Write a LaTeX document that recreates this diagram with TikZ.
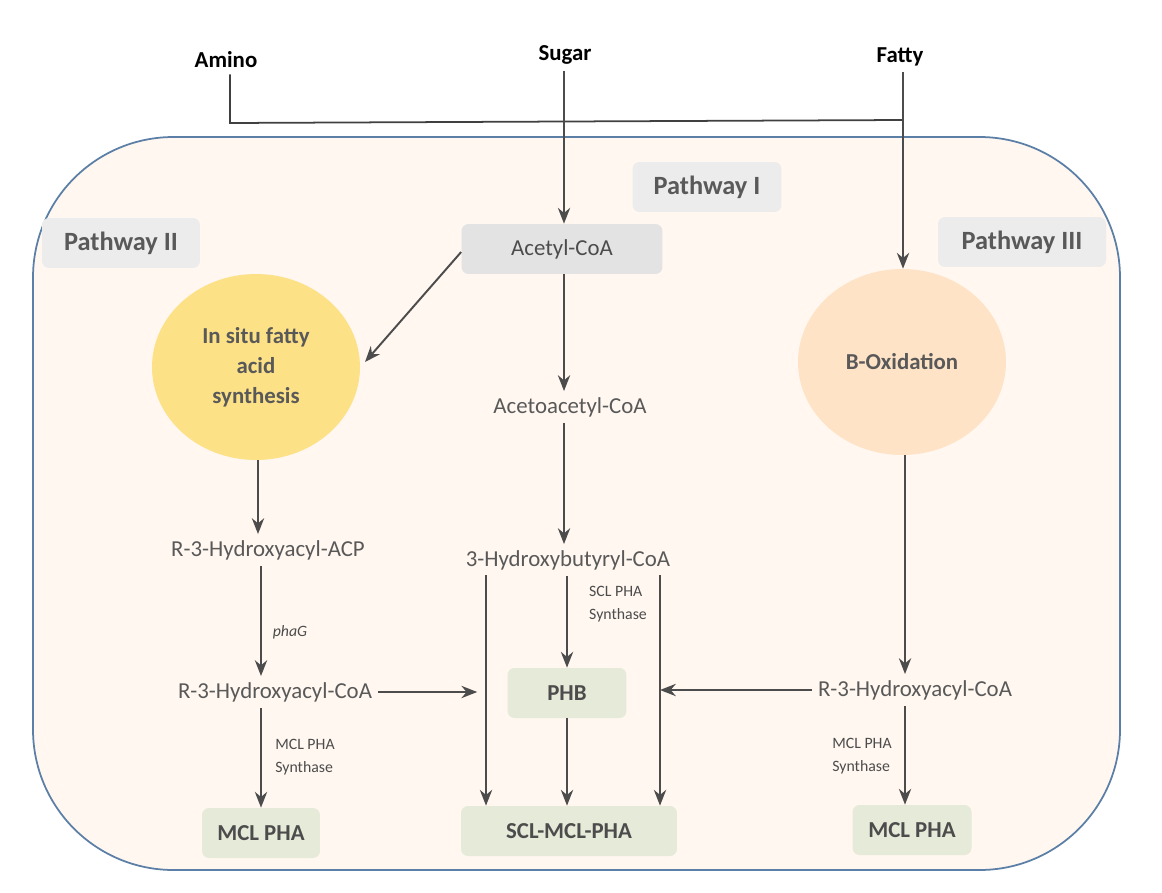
\documentclass[tikz,border=0pt]{standalone}
\usepackage{fontspec}
\setmainfont{Carlito}
\usetikzlibrary{arrows.meta,shapes.geometric}
\definecolor{pgreen}{HTML}{E6EAD8}
\definecolor{pborder}{HTML}{5B7FA6}
\begin{document}
\begin{tikzpicture}[x=0.02cm,y=-0.02cm,
 txt/.style={text=black!65,font=\fontsize{13}{15}\selectfont},
 sm/.style={text=black!70,font=\fontsize{9}{13}\selectfont,align=left},
 box/.style={rounded corners=4pt,minimum height=1cm,text=black!70,font=\bfseries\fontsize{13}{15}\selectfont},
 pw/.style={box,fill=gray!15,text=black!65,font=\bfseries\fontsize{15}{17}\selectfont},
 top/.style={font=\bfseries\fontsize{13}{15}\selectfont},
 ar/.style={draw=black!70,line width=1.1pt,-{Stealth[length=9pt,width=7pt]}},
 ln/.style={draw=black!75,line width=1pt}]
\useasboundingbox (0,0) rectangle (1162,892);
\draw[fill=orange!6,draw=pborder,line width=1pt,rounded corners=80] (33,137) rectangle (1120,870);
\node[top] (amino) at (226,60) {Amino};
\node[top] (sugar) at (565,55) {Sugar};
\node[top] (fatty) at (900,57) {Fatty};
\node[pw,minimum width=2.98cm] (p1) at (707,187) {Pathway I};
\node[pw,minimum width=3.16cm] (p2) at (121,243) {Pathway II};
\node[pw,minimum width=3.36cm] (p3) at (1022,242) {Pathway III};
\node[box,fill=gray!22,minimum width=4.02cm,font=\fontsize{13}{15}\selectfont] (acetyl) at (562,249) {Acetyl-CoA};
\node[ellipse,fill=yellow!55!orange!45,minimum width=4.16cm,minimum height=3.72cm,align=center,text=black!65,font=\bfseries\fontsize{13}{17}\selectfont] (insitu) at (256,367) {In situ fatty\\acid\\synthesis};
\node[ellipse,fill=orange!22,minimum width=4.16cm,minimum height=3.72cm,text=black!65,font=\bfseries\fontsize{13}{15}\selectfont] (box) at (902,362) {B-Oxidation};
\node[txt] (aceto) at (570,407) {Acetoacetyl-CoA};
\node[txt] (hb) at (568,560) {3-Hydroxybutyryl-CoA};
\node[txt] (acp) at (268,550) {R-3-Hydroxyacyl-ACP};
\node[txt] (coaL) at (275,692) {R-3-Hydroxyacyl-CoA};
\node[txt] (coaR) at (915,690) {R-3-Hydroxyacyl-CoA};
\node[sm,font=\itshape\fontsize{9}{13}\selectfont] (phag) at (290,632) {phaG};
\node[sm] (s1) at (305,757) {MCL PHA\\Synthase};
\node[sm] (s2) at (618,604) {SCL PHA\\Synthase};
\node[sm] (s3) at (862,756) {MCL PHA\\Synthase};
\node[box,fill=pgreen,minimum width=2.36cm] (mcl1) at (261,833) {MCL PHA};
\node[box,fill=pgreen,minimum width=2.38cm] (phb) at (567,693) {PHB};
\node[box,fill=pgreen,minimum width=4.32cm] (scl) at (569,831) {SCL-MCL-PHA};
\node[box,fill=pgreen,minimum width=2.38cm] (mcl2) at (912,830) {MCL PHA};
% inputs
\coordinate (j1) at (230,123); \coordinate (j2) at (903,120);
\coordinate (xs) at (564,0); \coordinate (xa) at (258,0); \coordinate (xb) at (261,0); \coordinate (xr) at (905,0);
\coordinate (tip) at (365,362);
\draw[ln] (amino.south -| j1) -- (j1) -- (j2);
\draw[ar] (sugar.south -| xs) -- (xs |- acetyl.north);
\draw[ar] (fatty.south -| j2) -- (j2 |- box.north);
% pathway I
\draw[ar] (acetyl.west) ++(0,3) -- (tip);
\draw[ar] (acetyl.south -| xs) -- (xs |- aceto.north);
\draw[ar] (aceto.south -| xs) -- (xs |- hb.north);
\draw[ar] (hb.south -| phb.north) -- (phb.north);
\draw[ar] (phb.south) -- (phb.south |- scl.north);
\coordinate (hbL) at (486,575); \coordinate (hbR) at (660,575);
\draw[ar] (hbL) -- (hbL |- scl.north);
\draw[ar] (hbR) -- (hbR |- scl.north);
% pathway II
\draw[ar] (insitu.south -| xa) -- (xa |- acp.north);
\draw[ar] (acp.south -| xb) -- (xb |- coaL.north);
\draw[ar] (coaL.east) -- ([xshift=-5pt]hbL |- coaL.east);
\draw[ar] (coaL.south -| xb) -- (xb |- mcl1.north);
% pathway III
\draw[ar] (box.south -| xr) -- (xr |- coaR.north);
\draw[ar] (coaR.west) -- (hbR |- coaR.west);
\draw[ar] (coaR.south -| xr) -- (xr |- mcl2.north);
\end{tikzpicture}
\end{document}
